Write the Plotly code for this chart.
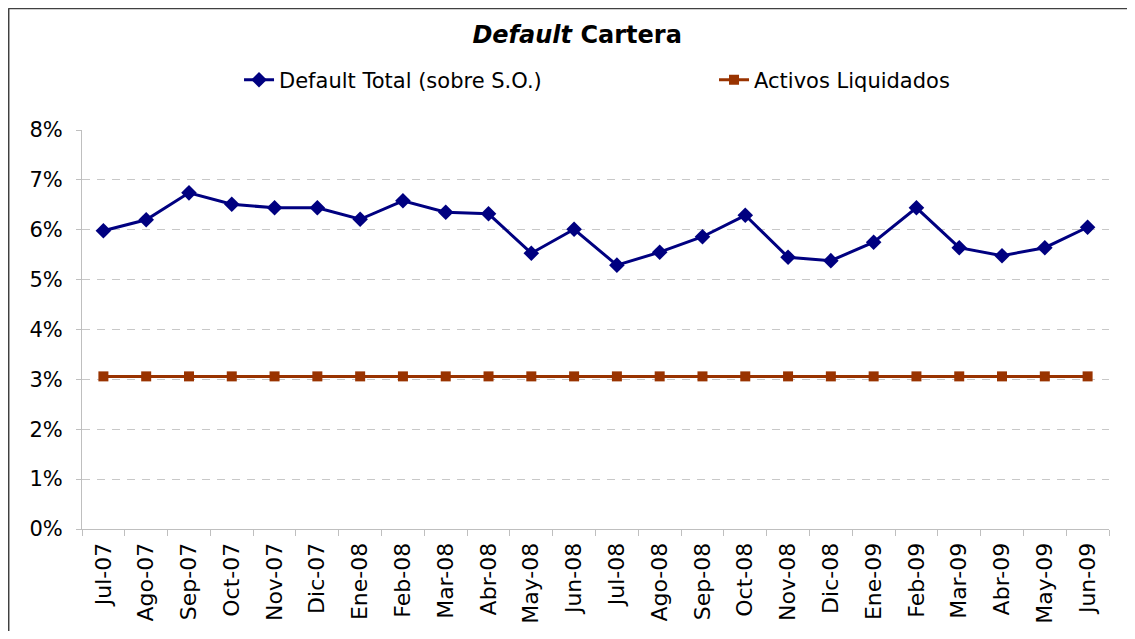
import plotly.graph_objects as go

categories = ["Jul-07", "Ago-07", "Sep-07", "Oct-07", "Nov-07", "Dic-07", "Ene-08", "Feb-08",
              "Mar-08", "Abr-08", "May-08", "Jun-08", "Jul-08", "Ago-08", "Sep-08", "Oct-08",
              "Nov-08", "Dic-08", "Ene-09", "Feb-09", "Mar-09", "Abr-09", "May-09", "Jun-09"]
default_total = [0.0598, 0.0620, 0.0674, 0.0651, 0.0644, 0.0644, 0.0621, 0.0658,
                 0.0635, 0.0632, 0.0553, 0.0601, 0.0529, 0.0555, 0.0586, 0.0629,
                 0.0545, 0.0538, 0.0575, 0.0644, 0.0564, 0.0548, 0.0564, 0.0605]
activos_liquidados = [0.0306] * 24
y_ticks = [0, 0.01, 0.02, 0.03, 0.04, 0.05, 0.06, 0.07, 0.08]

FONT = "DejaVu Sans"

fig = go.Figure()
fig.add_trace(go.Scatter(
    x=categories, y=default_total, name="Default Total (sobre S.O.)",
    mode="lines+markers", line=dict(color="#000080", width=3),
    marker=dict(symbol="diamond", size=12, color="#000080"), legend="legend"))
fig.add_trace(go.Scatter(
    x=categories, y=activos_liquidados, name="Activos Liquidados",
    mode="lines+markers", line=dict(color="#993300", width=3),
    marker=dict(symbol="square", size=10, color="#993300"), legend="legend2"))

legend_common = dict(orientation="h", xanchor="left", y=1.125, yanchor="middle",
                     font=dict(family=FONT, size=21, color="black"),
                     itemwidth=30, bgcolor="rgba(0,0,0,0)")

frame_line = dict(color="#404040", width=2)

fig.update_layout(
    width=1127, height=623,
    margin=dict(l=74, r=26, t=122, b=102, autoexpand=False),
    paper_bgcolor="white", plot_bgcolor="white",
    font=dict(family=FONT, size=18, color="black"),
    title=dict(text="<b><i>Default</i> Cartera</b>", x=0.505, xanchor="center",
               y=0.9567, yanchor="middle", font=dict(family=FONT, size=24, color="black")),
    showlegend=True,
    legend=dict(x=0.1529, **legend_common),
    legend2=dict(x=0.6154, **legend_common),
    shapes=[
        dict(type="line", xref="paper", yref="paper", x0=-0.0716, x1=-0.0716,
             y0=-0.26, y1=1.305, line=frame_line, layer="below"),
        dict(type="line", xref="paper", yref="paper", x0=-0.0716, x1=1.0253,
             y0=1.305, y1=1.305, line=frame_line, layer="below"),
    ],
)
fig.update_xaxes(
    type="category", tickangle=-90, showgrid=False, automargin=False,
    showline=True, linecolor="#BFBFBF", linewidth=1,
    ticks="outside", tickson="boundaries", ticklen=6, tickcolor="#BFBFBF",
    ticklabelstandoff=4,
    tickfont=dict(family=FONT, size=22, color="black"), range=[-0.5, 23.5])
fig.update_yaxes(
    range=[0, 0.08], tickvals=y_ticks, tickformat=".0%", automargin=False,
    showline=True, linecolor="#BFBFBF", linewidth=1,
    ticks="outside", ticklen=5, tickcolor="#BFBFBF",
    ticklabelstandoff=9,
    showgrid=True, gridcolor="#C8C8C8", griddash="8px,7px", gridwidth=1,
    zeroline=False, tickfont=dict(family=FONT, size=21, color="black"))

fig.write_html("out.html")
